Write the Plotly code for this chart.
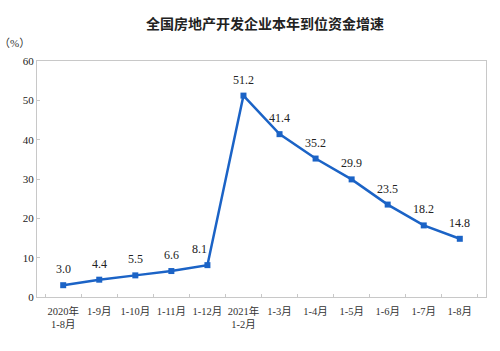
import plotly.graph_objects as go

categories = ["2020年<br>1-8月", "1-9月", "1-10月", "1-11月", "1-12月", "2021年<br>1-2月",
              "1-3月", "1-4月", "1-5月", "1-6月", "1-7月", "1-8月"]
values = [3.0, 4.4, 5.5, 6.6, 8.1, 51.2, 41.4, 35.2, 29.9, 23.5, 18.2, 14.8]
labels = [f"{v:.1f}" for v in values]

serif = "Liberation Serif, Noto Sans CJK SC, serif"
color = "#1b63c6"

fig = go.Figure(go.Scatter(
    x=categories, y=values, mode="lines+markers",
    line=dict(color=color, width=2.5),
    marker=dict(symbol="square", size=6, color=color),
    showlegend=False,
))

annotations = []
for i, (c, v, t) in enumerate(zip(categories, values, labels)):
    # nudge a label left when the line rises steeply right after it
    steep = i + 1 < len(values) and values[i + 1] - v > 20
    annotations.append(dict(x=c, y=v, text=t, showarrow=False, yshift=16,
                            xshift=-8 if steep else 0, yanchor="middle",
                            font=dict(family=serif, size=12, color="#222")))
annotations.append(dict(text="（%）", xref="paper", yref="paper", x=-0.09, y=1.075,
                        xanchor="left", yanchor="middle", showarrow=False,
                        font=dict(family=serif, size=11, color="#333")))

fig.update_layout(
    width=500, height=351,
    margin=dict(l=37, r=14, t=61, b=54),
    paper_bgcolor="white", plot_bgcolor="white",
    title=dict(text="<b>全国房地产开发企业本年到位资金增速</b>", x=0.53, xanchor="center",
               y=0.93, yanchor="middle",
               font=dict(family="Noto Sans CJK SC", size=14, color="#222")),
    annotations=annotations,
)
fig.update_xaxes(
    type="category", showline=True, linecolor="#c8c8c8", linewidth=1, mirror=True,
    ticks="inside", ticklen=3, tickcolor="#c8c8c8", tickson="boundaries",
    showgrid=False, tickangle=0, ticklabelstandoff=4,
    tickfont=dict(family=serif, size=10.5, color="#333"),
)
fig.update_yaxes(
    range=[0, 60], dtick=10, showline=True, linecolor="#c8c8c8", linewidth=1, mirror=True,
    ticks="inside", ticklen=3, tickcolor="#c8c8c8", showgrid=False, zeroline=False,
    tickfont=dict(family=serif, size=11, color="#222"),
)

fig.write_html("out.html")
